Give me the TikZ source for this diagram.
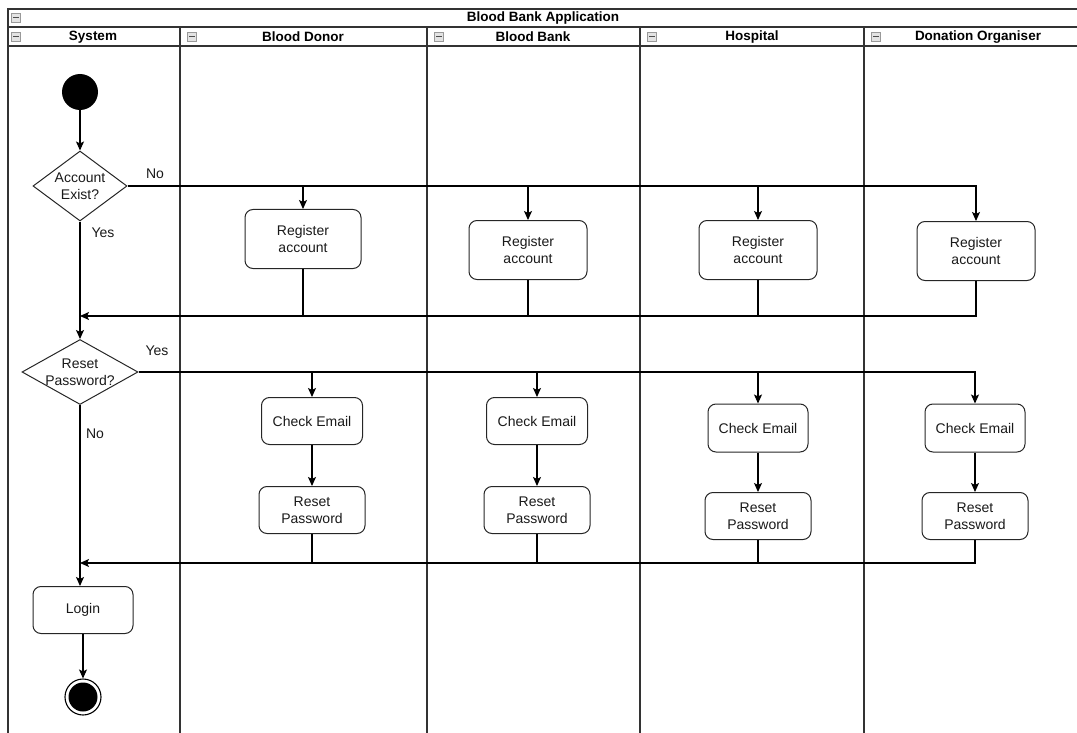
\documentclass[tikz,border=0pt]{standalone}
\usepackage{fontspec}
\setmainfont{Liberation Sans}
\usetikzlibrary{shapes.geometric,arrows.meta,calc}

\begin{document}
\begin{tikzpicture}[x=1pt,y=-1pt,
  lane/.style={draw=black!80,line width=1.2pt},
  hdr/.style={font=\fontsize{13.5}{16}\selectfont\bfseries,inner sep=0pt},
  act/.style={draw=black!85,line width=1pt,rounded corners=8pt,align=center,
    font=\fontsize{14}{17}\selectfont,text=black!90,inner sep=0pt},
  dec/.style={draw=black!85,line width=1pt,shape=diamond,inner sep=0pt},
  dtxt/.style={align=center,font=\fontsize{14}{17}\selectfont,text=black!90,inner sep=0pt},
  lbl/.style={font=\fontsize{14}{17}\selectfont,text=black!90,inner sep=0pt},
  flow/.style={draw=black,line width=1.1pt,-{Stealth[length=9pt,width=8pt,inset=2pt]}},
  link/.style={draw=black,line width=1.1pt},
  minusbox/.pic={\draw[draw=gray!80,fill=gray!22,line width=0.8pt] (-4.5,-4.5) rectangle (4.5,4.5);
                 \draw[gray!60!black,line width=1pt] (-2.8,0) -- (2.8,0);}
]
\useasboundingbox (0,0) rectangle (1077,733);

% pool frame, title row and lane header row
\draw[lane] (8,733) -- (8,9) -- (1077,9);
\draw[lane] (8,27) -- (1077,27);
\draw[lane] (8,46) -- (1077,46);
\foreach \x in {180,427,640,864} \draw[lane] (\x,27) -- (\x,733);

\node[hdr] (title) at (543,18) {Blood Bank Application};
\node[hdr] (hsys) at (93,37) {System};
\node[hdr] (hdon) at (303,37) {Blood Donor};
\node[hdr] (hbank) at (533,37) {Blood Bank};
\node[hdr] (hhosp) at (752,37) {Hospital};
\node[hdr] (horg) at (978,37) {Donation Organiser};
\pic at (16,18) {minusbox};
\foreach \x in {16,192,439,652,876} \pic at (\x,37) {minusbox};

% system lane
\node[circle,fill=black,minimum size=36pt,inner sep=0pt] (start) at (80,92) {};
\node[dec,minimum width=94pt,minimum height=70pt] (d1) at (80,186) {};
\node[dtxt] (d1t) at (80,186) {Account\\Exist?};
\node[dec,minimum width=116pt,minimum height=65pt] (d2) at (80,372) {};
\node[dtxt] (d2t) at (80,372) {Reset\\Password?};
\node[act,minimum width=100pt,minimum height=47pt] (login) at (83,610) {Login};
\node[circle,draw=black,line width=1.1pt,fill=white,minimum size=36pt,inner sep=0pt] (end) at (83,697) {};
\node[circle,fill=black,minimum size=29pt,inner sep=0pt] (endin) at (83,697) {};

% register activities
\node[act,minimum width=116pt,minimum height=59pt] (ra1) at (303,239) {Register\\account};
\node[act,minimum width=118pt,minimum height=59pt] (ra2) at (528,250) {Register\\account};
\node[act,minimum width=118pt,minimum height=59pt] (ra3) at (758,250) {Register\\account};
\node[act,minimum width=118pt,minimum height=59pt] (ra4) at (976,251) {Register\\account};

% password reset activities
\node[act,minimum width=101pt,minimum height=47pt] (ce1) at (312,421) {Check Email};
\node[act,minimum width=101pt,minimum height=47pt] (ce2) at (537,421) {Check Email};
\node[act,minimum width=100pt,minimum height=48pt] (ce3) at (758,428) {Check Email};
\node[act,minimum width=100pt,minimum height=48pt] (ce4) at (975,428) {Check Email};
\node[act,minimum width=106pt,minimum height=47pt] (rp1) at (312,510) {Reset\\Password};
\node[act,minimum width=106pt,minimum height=47pt] (rp2) at (537,510) {Reset\\Password};
\node[act,minimum width=106pt,minimum height=47pt] (rp3) at (758,516) {Reset\\Password};
\node[act,minimum width=106pt,minimum height=47pt] (rp4) at (975,516) {Reset\\Password};

% guard labels
\node[lbl] (no1) at (155,174) {No};
\node[lbl] (yes1) at (103,233) {Yes};
\node[lbl] (yes2) at (157,351) {Yes};
\node[lbl] (no2) at (95,434) {No};

% merge points on the main line
\coordinate (m1) at (80,316);
\coordinate (m2) at (80,563);

% main flow
\draw[flow] (start) -- (d1.north);
\draw[flow] (d1.south) -- (d2.north);
\draw[flow] (d2.south) -- (d2.south |- login.north);
\draw[flow] (login.south) -- (end.north);

% account branch
\draw[flow] (d1.east) -| (ra4.north);
\foreach \n in {ra1,ra2,ra3} \draw[flow] (\n.north |- d1.east) -- (\n.north);
\draw[flow] (ra4.south) |- (m1);
\foreach \n in {ra1,ra2,ra3} \draw[link] (\n.south) -- (\n.south |- m1);

% reset branch
\draw[flow] (d2.east) -| (ce4.north);
\foreach \n in {ce1,ce2,ce3} \draw[flow] (\n.north |- d2.east) -- (\n.north);
\draw[flow] (ce1) -- (rp1);
\draw[flow] (ce2) -- (rp2);
\draw[flow] (ce3) -- (rp3);
\draw[flow] (ce4) -- (rp4);
\draw[flow] (rp4.south) |- (m2);
\foreach \n in {rp1,rp2,rp3} \draw[link] (\n.south) -- (\n.south |- m2);
\end{tikzpicture}
\end{document}
